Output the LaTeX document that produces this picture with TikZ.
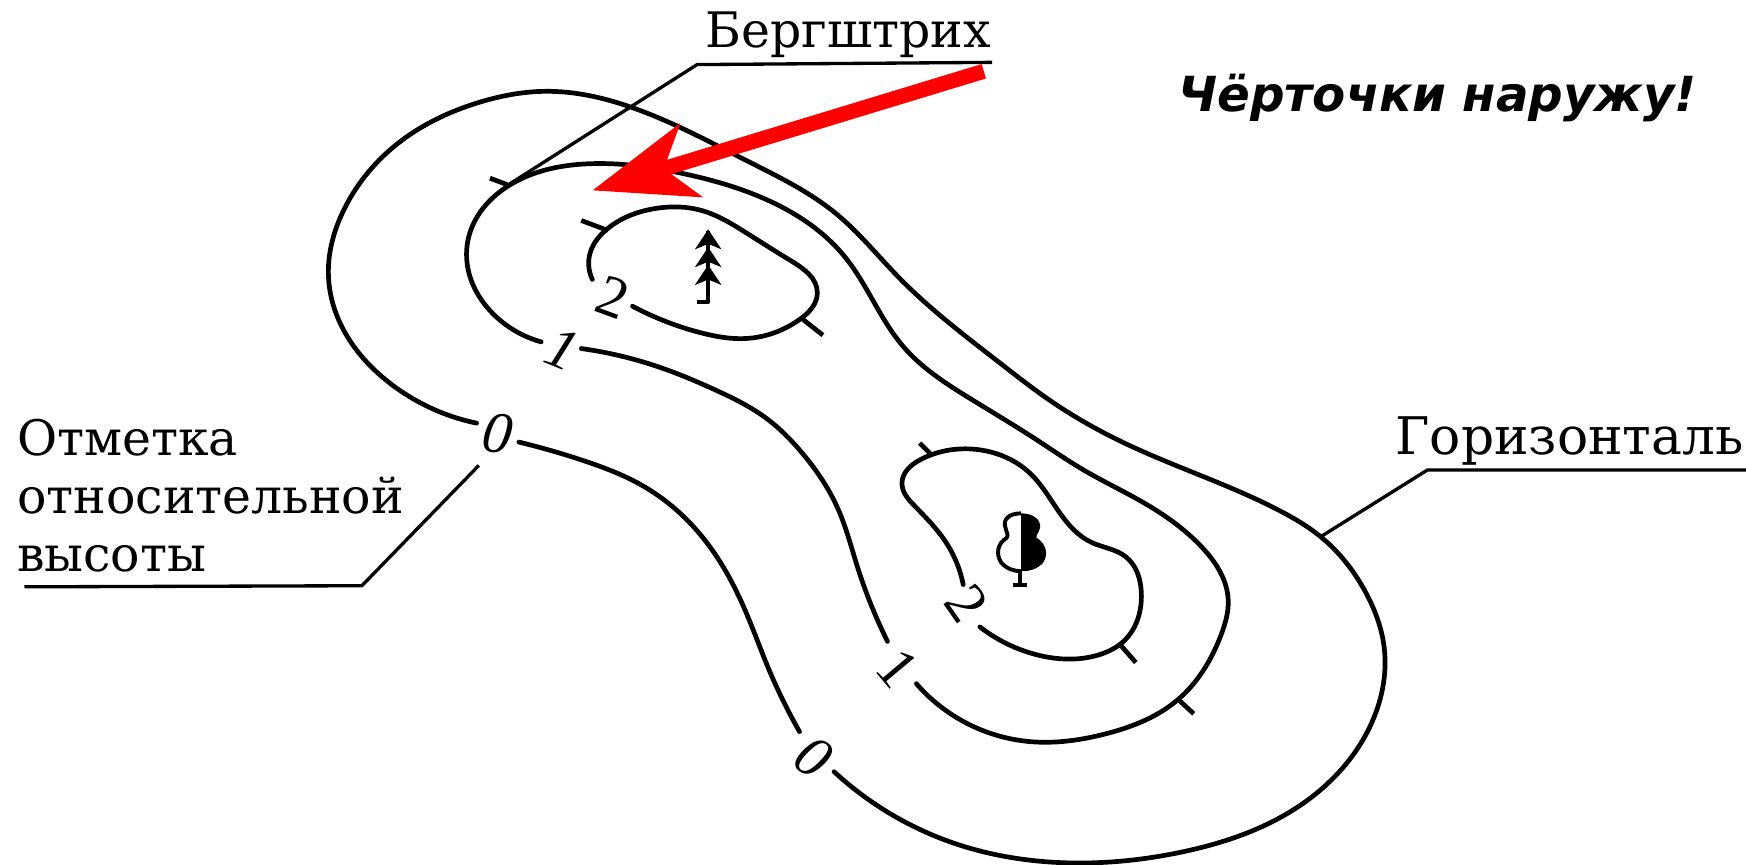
\documentclass[tikz,border=0pt]{standalone}
\usepackage{fontspec}
\setmainfont{DejaVu Serif}
\newfontfamily\heightfont{Liberation Serif}
\newfontfamily\notefont{DejaVu Sans}
\usepackage{tikz}
\usetikzlibrary{arrows.meta,hobby}

\tikzset{
    contour/.style={line width=2.4pt, line cap=round, line join=round, use Hobby shortcut},
    tick/.style={line width=2.4pt},
    leader/.style={line width=1.7pt, line join=round},
    mapText/.style={font=\fontsize{25}{29.6}\selectfont, inner sep=0pt, anchor=west},
    heightMark/.style={font=\fontsize{30}{30}\selectfont\heightfont, inner sep=0pt},
    treeLine/.style={line width=2pt, line join=round}
}

\begin{document}
\begin{tikzpicture}[x=0.02cm, y=-0.02cm, >=stealth]

    \useasboundingbox (0, 0) rectangle (1568, 776.8);

    % --- 1. Contour 0 ---
    \draw[contour] (466,397) .. (525,414) .. (575,435) .. (620,470) .. (650,510) .. (670,550) .. (690,600) .. (718,657);
    \draw[contour] (749,693) .. (856,757) .. (965,775) .. (1062,765) .. (1165,725) .. (1234,644) .. (1243,581) .. (1227,533) .. (1186,482) .. (1148,458) .. (1010,398) .. (942,359) .. (898,326) .. (807,249) .. (751,192) .. (670,144) .. (566,96) .. (490,82) .. (430,92) .. (357,129) .. (310,186) .. (295,249) .. (310,299) .. (350,344) .. (428,380);

    % --- 2. Contour 1 ---
    \draw[contour] (486,307) .. (442,281) .. (420,240) .. (422,209) .. (458,166) .. (530,147) .. (614,156) .. (690,180) .. (759,231) .. (811,311) .. (873,359) .. (931,395) .. (973,422) .. (1028,452) .. (1079,491) .. (1103,539) .. (1097,569) .. (1057,629) .. (993,659) .. (925,666) .. (823,614);
    \draw[contour] (522,313) .. (590,329) .. (642,350) .. (690,377) .. (718,404) .. (753,458) .. (770,509) .. (797,576);

    % --- 3. Contour 2 ---
    \draw[contour] (532,251) .. (530,227) .. (546,205) .. (590,187) .. (630,189) .. (670,209) .. (710,234) .. (734,263) .. (718,287) .. (670,304) .. (630,299) .. (568,275);
    \draw[contour] (865,525) .. (852,491) .. (822,455) .. (810,434) .. (828,412) .. (880,404) .. (925,425) .. (952,461) .. (980,487) .. (1011,500) .. (1025,533) .. (1010,575) .. (987,588) .. (931,588) .. (880,563);

    % --- 4. Slope ticks ---
    \draw[tick] (456,166) -- (440,160);
    \draw[tick] (546,207) -- (522,198);
    \draw[tick] (720,286) -- (739,301);
    \draw[tick] (837,409) -- (826,398);
    \draw[tick] (1006,579) -- (1020,595);
    \draw[tick] (1059,629) -- (1072,641);

    % --- 5. Height marks ---
    \node[heightMark, rotate=-8] (zeroA) at (447,389) {\itshape 0};
    \node[heightMark, rotate=-35] (zeroB) at (731,680) {\itshape 0};
    \node[heightMark, rotate=-22] (oneA) at (505,313) {\itshape 1};
    \node[heightMark, rotate=-50] (oneB) at (806,600) {1};
    \node[heightMark, rotate=-20] (twoA) at (550,267) {2};
    \node[heightMark, rotate=-55] (twoB) at (868,542) {2};

    % --- 6. Labels and their leaders ---
    \node[mapText] (bergLabel) at (633,31) {Бергштрих};
    \node[mapText, align=left] (markLabel) at (15,445) {Отметка\\относительной\\высоты};
    \node[mapText, font=\fontsize{26.5}{30}\selectfont] (horizLabel) at (1253,396) {Горизонталь};
    \node[font=\fontsize{24.7}{30}\selectfont\notefont\bfseries\itshape, inner sep=0pt, anchor=west] (noteLabel) at (1058,88) {Чёрточки наружу!};

    \coordinate (bergFoot) at (458,165);
    \coordinate (bergKnee) at (626,58);
    \coordinate (bergEnd) at (891,56);
    \coordinate (markFoot) at (430,418);
    \coordinate (markKnee) at (325,526);
    \coordinate (markEnd) at (22,527);
    \coordinate (horizFoot) at (1186,482);
    \coordinate (horizKnee) at (1282,422);
    \coordinate (horizEnd) at (1568,422);

    \draw[leader] (bergFoot) -- (bergKnee) -- (bergEnd);
    \draw[leader] (markFoot) -- (markKnee) -- (markEnd);
    \draw[leader] (horizFoot) -- (horizKnee) -- (horizEnd);

    % --- 7. Fir tree ---
    \draw[treeLine] (626,271) -- (636,271) -- (636,207);
    \foreach \y in {224, 240, 256} {
        \fill (636,\y-18) -- (648,\y) -- (636,\y-5) -- (624,\y) -- cycle;
    }

    % --- 8. Leaf tree ---
    \def\cx{917}
    \fill (\cx,461) .. controls (\cx+10,461) and (\cx+18,466) .. (\cx+17,474)
        .. controls (\cx+16,479) and (\cx+13,480) .. (\cx+14,483)
        .. controls (\cx+22,488) and (\cx+25,497) .. (\cx+20,505)
        .. controls (\cx+15,511) and (\cx+8,513) .. (\cx,513) -- cycle;
    \draw[treeLine] (\cx,461) .. controls (\cx-10,461) and (\cx-17,466) .. (\cx-14,474)
        .. controls (\cx-13,479) and (\cx-11,480) .. (\cx-13,483)
        .. controls (\cx-21,488) and (\cx-23,497) .. (\cx-18,505)
        .. controls (\cx-13,511) and (\cx-6,513) .. (\cx,513);
    \draw[treeLine] (\cx-1,513) -- (\cx-1,525);
    \draw[treeLine] (\cx-7,525) -- (\cx+5,525);

    % --- 9. Red arrow ---
    \coordinate (arrowTail) at (883.5,64);
    \coordinate (arrowTip) at (532,171);
    \draw[red, line width=0.27cm, -{Stealth[length=1.84cm, width=1.36cm, inset=0.5cm]}] (arrowTail) -- (arrowTip);

\end{tikzpicture}
\end{document}
